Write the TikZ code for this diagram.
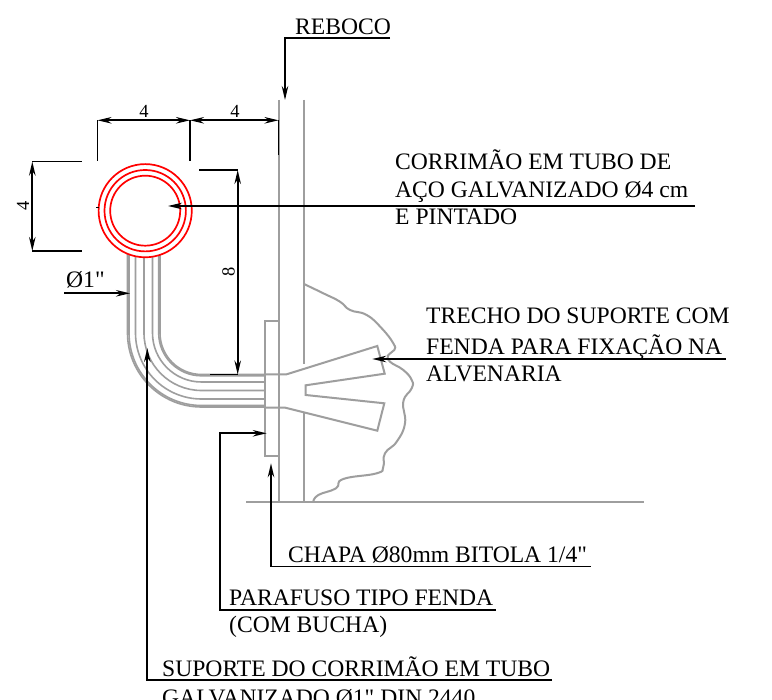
\documentclass[tikz,border=0pt]{standalone}
\usepackage{fontspec}
\newfontfamily\fonteplanta{Liberation Serif}
\usetikzlibrary{arrows.meta}
\tikzset{
    parede/.style={draw=black!38, line width=2pt},
    tubo/.style={draw=black!38, line width=1.6pt},
    corrimao/.style={draw=red, line width=1.7pt},
    cota/.style={black, line width=1.8pt},
    seta/.style={cota, -{Stealth[length=14pt,width=6.5pt]}},
    setadupla/.style={cota, {Stealth[length=14pt,width=6.5pt]}-{Stealth[length=14pt,width=6.5pt]}},
    texto/.style={anchor=base west, inner sep=0pt, font=\fonteplanta\fontsize{23.6}{28}\selectfont},
    numero/.style={inner sep=0pt, font=\fonteplanta\fontsize{18.5}{20}\selectfont}
}
\begin{document}
\begin{tikzpicture}[x=1pt, y=-1pt]
            \clip (0,0) rectangle (772,700);
            \fill[white] (0,0) rectangle (772,700);

            % parede, chao e chapa
            \draw[parede] (278.5,100) -- (278.5,502);
            \draw[parede] (304,100) -- (304,364);
            \draw[parede] (304,413) -- (304,502);
            \draw[parede] (246,502) -- (644,502);
            \draw[parede] (265,320.7) rectangle (278.5,455.7);

            % alvenaria
            \draw[parede] plot[smooth, tension=0.8] coordinates {
                (304,284) (323.3,293.3) (340,301.7) (350,310) (366.7,315)
                (381.7,328.3) (393.3,343.3) (394.3,350) (388.3,355) (390,361.7)
                (403.3,370) (411.7,380) (411.7,388.3) (403.3,401.7) (405,423.3)
                (396.7,441.7) (385,453.3) (383.3,466.7) (376.7,473.3) (343.3,479)
                (336,488.3) (318.3,495) (313.3,501.7)};

            % grapa
            \draw[parede] (265,374.5) -- (286,374.5) -- (377.3,346) -- (384.7,373.7)
                -- (305.7,385.3) -- (305.7,395) -- (384.3,403.3) -- (377.3,430.7)
                -- (285.3,407.7) -- (265,407.7);

            % suporte
            \foreach \r in {41.5, 42.8, 49, 57.5, 66, 72.5, 74} {
                \draw[tubo] (201.5-\r,250) -- (201.5-\r,333)
                    arc[start angle=180, end angle=90, radius=\r] -- (265,333+\r);
            }

            % corrimao
            \fill[white] (145.2,210.7) circle (47);
            \foreach \r in {35, 40.7, 46.6} {
                \draw[corrimao] (145.2,210.7) circle (\r);
            }

            % cotas
            \coordinate (cotaA) at (97.5,120.3);
            \coordinate (cotaB) at (190,120.3);
            \coordinate (cotaC) at (278.5,120.3);
            \draw[cota] (cotaA) -- (97.5,161);
            \draw[cota] (cotaB) -- (190,161);
            \draw[cota] (cotaC) -- (278.5,155);
            \draw[setadupla] (cotaA) -- (cotaB);
            \draw[setadupla] (cotaB) -- (cotaC);
            \node[numero] (cotaQuatroA) at (144,111) {4};
            \node[numero] (cotaQuatroB) at (235,111) {4};

            \coordinate (cotaD) at (32.3,161.6);
            \coordinate (cotaE) at (32.3,251);
            \draw[cota] (cotaD) -- (82,161.6);
            \draw[cota] (cotaE) -- (82,251);
            \draw[setadupla] (cotaD) -- (cotaE);
            \node[numero, rotate=90] (cotaQuatroC) at (23,206) {4};

            \coordinate (cotaF) at (237.7,170);
            \coordinate (cotaG) at (237.7,374.5);
            \draw[cota] (199,170) -- (cotaF);
            \draw[cota] (210,374.5) -- (cotaG);
            \draw[setadupla] (cotaF) -- (cotaG);
            \node[numero, rotate=90] (cotaOito) at (228.5,272) {8};

            \draw[black, line width=1pt] (96,207.5) -- (99,207.5);

            % chamadas
            \node[texto] (reboco) at (295,35) {REBOCO};
            \draw[seta] (390,38) -- (285,38) -- (285,100);

            \node[texto] (corrimaoA) at (395,170) {CORRIMÃO EM TUBO DE};
            \node[texto] (corrimaoB) at (395,198) {AÇO GALVANIZADO Ø4 cm};
            \node[texto] (corrimaoC) at (395,225) {E PINTADO};
            \draw[seta] (695,206) -- (168,206);

            \node[texto] (diametro) at (66,288) {Ø1"};
            \draw[seta] (64,293.3) -- (130,293.3);

            \node[texto] (trechoA) at (426,324) {TRECHO DO SUPORTE COM};
            \node[texto] (trechoB) at (426,355) {FENDA PARA FIXAÇÃO NA};
            \node[texto] (trechoC) at (426,381.5) {ALVENARIA};
            \draw[seta] (726,359) -- (372.3,359);

            \node[texto] (chapa) at (288,563) {CHAPA Ø80mm BITOLA 1/4"};
            \draw[seta] (590.7,566.5) -- (271,566.5) -- (271,463.3);

            \node[texto] (parafusoA) at (229,606) {PARAFUSO TIPO FENDA};
            \node[texto] (parafusoB) at (229,632.5) {(COM BUCHA)};
            \draw[seta] (495.7,610) -- (220,610) -- (220,433.3) -- (266.7,433.3);

            \node[texto] (suporteA) at (162,677) {SUPORTE DO CORRIMÃO EM TUBO};
            \node[texto] (suporteB) at (162,706) {GALVANIZADO Ø1" DIN 2440};
            \draw[seta] (552,680) -- (147.3,680) -- (147.3,348);
        \end{tikzpicture}
\end{document}
